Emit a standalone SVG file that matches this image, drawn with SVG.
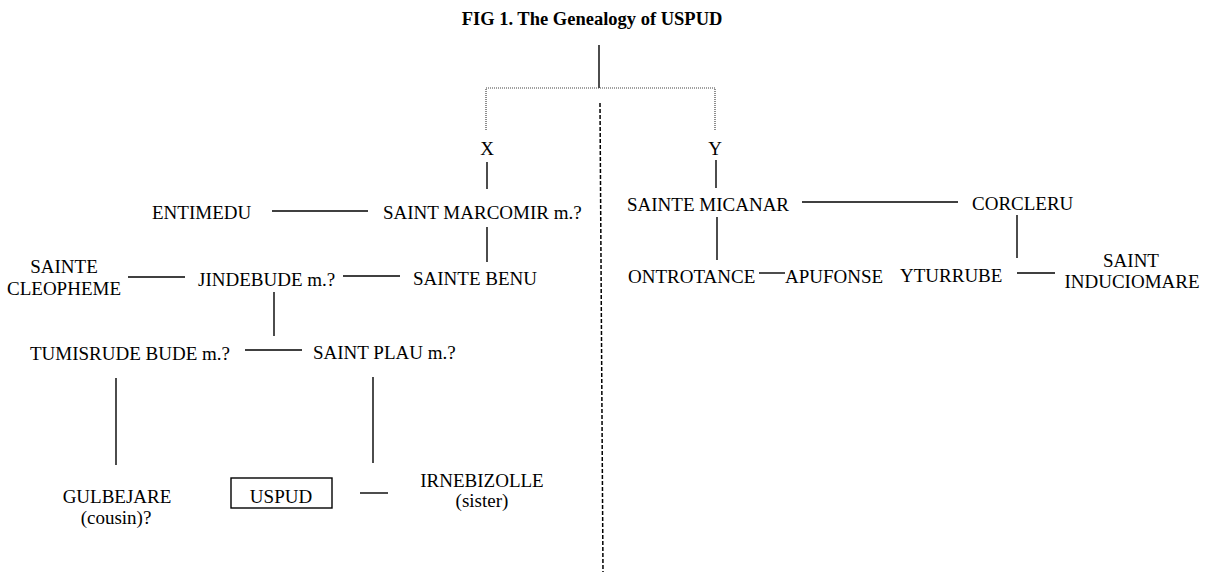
<svg xmlns="http://www.w3.org/2000/svg" width="1207" height="572" viewBox="0 0 1207 572">
<style>
text{font-family:"Liberation Serif","Times New Roman",serif;font-size:19px;fill:#000}
.m{text-anchor:middle}
.t{font-weight:bold;font-size:18.5px}
.c line,.c path{stroke:#000;stroke-width:1.4;fill:none}
.c .dot{stroke:#444;stroke-width:1.2;stroke-dasharray:1 1}
.c .dash{stroke-width:1.5;stroke-dasharray:4 2}
</style>
<rect width="1207" height="572" fill="#fff"/>
<text id="title" class="t m" x="592" y="25">FIG 1. The Genealogy of USPUD</text>
<g id="connectors" class="c">
<line x1="599" y1="45" x2="599" y2="88"/>
<path class="dot" d="M486,130 V88 H715 V130"/>
<line class="dash" x1="600" y1="103" x2="603" y2="572"/>
<line x1="487" y1="162" x2="487" y2="189"/>
<line x1="716" y1="160" x2="716" y2="188"/>
<line x1="272" y1="211" x2="368" y2="211"/>
<line x1="487" y1="227" x2="487" y2="262"/>
<line x1="802" y1="202" x2="958" y2="202"/>
<line x1="717" y1="217" x2="717" y2="260"/>
<line x1="1017" y1="215" x2="1017" y2="258"/>
<line x1="128" y1="277" x2="185" y2="277"/>
<line x1="343" y1="276" x2="400" y2="276"/>
<line x1="759" y1="273" x2="785" y2="273"/>
<line x1="1017" y1="273" x2="1055" y2="273"/>
<line x1="274" y1="292" x2="274" y2="336"/>
<line x1="245" y1="350" x2="302" y2="350"/>
<line x1="116" y1="378" x2="116" y2="465"/>
<line x1="373" y1="377" x2="373" y2="463"/>
<line x1="360" y1="493" x2="388" y2="493"/>
</g>
<g id="X"><text class="m" x="487" y="155">X</text></g>
<g id="Y"><text class="m" x="715" y="155">Y</text></g>
<g id="entimedu"><text x="152" y="219">ENTIMEDU</text></g>
<g id="marcomir"><text x="383" y="219">SAINT MARCOMIR m.?</text></g>
<g id="cleopheme"><text class="m" x="64" y="273">SAINTE</text><text class="m" x="64" y="295">CLEOPHEME</text></g>
<g id="jindebude"><text x="198" y="286">JINDEBUDE m.?</text></g>
<g id="benu"><text x="413" y="285">SAINTE BENU</text></g>
<g id="tumisrude"><text x="30" y="360">TUMISRUDE BUDE m.?</text></g>
<g id="plau"><text x="313" y="359">SAINT PLAU m.?</text></g>
<g id="gulbejare"><text class="m" x="117" y="503">GULBEJARE</text><text class="m" x="116" y="524">(cousin)?</text></g>
<g id="uspud"><rect x="231" y="478" width="101" height="30" fill="none" stroke="#000" stroke-width="1.4"/><text class="m" x="281" y="503">USPUD</text></g>
<g id="irnebizolle"><text class="m" x="482" y="487">IRNEBIZOLLE</text><text class="m" x="482" y="507">(sister)</text></g>
<g id="micanar"><text x="627" y="211">SAINTE MICANAR</text></g>
<g id="corcleru"><text x="972" y="210">CORCLERU</text></g>
<g id="ontrotance"><text x="628" y="283">ONTROTANCE</text></g>
<g id="apufonse"><text x="785" y="283">APUFONSE</text></g>
<g id="yturrube"><text x="900" y="282">YTURRUBE</text></g>
<g id="induciomare"><text class="m" x="1131" y="267">SAINT</text><text class="m" x="1132" y="288">INDUCIOMARE</text></g>
</svg>
